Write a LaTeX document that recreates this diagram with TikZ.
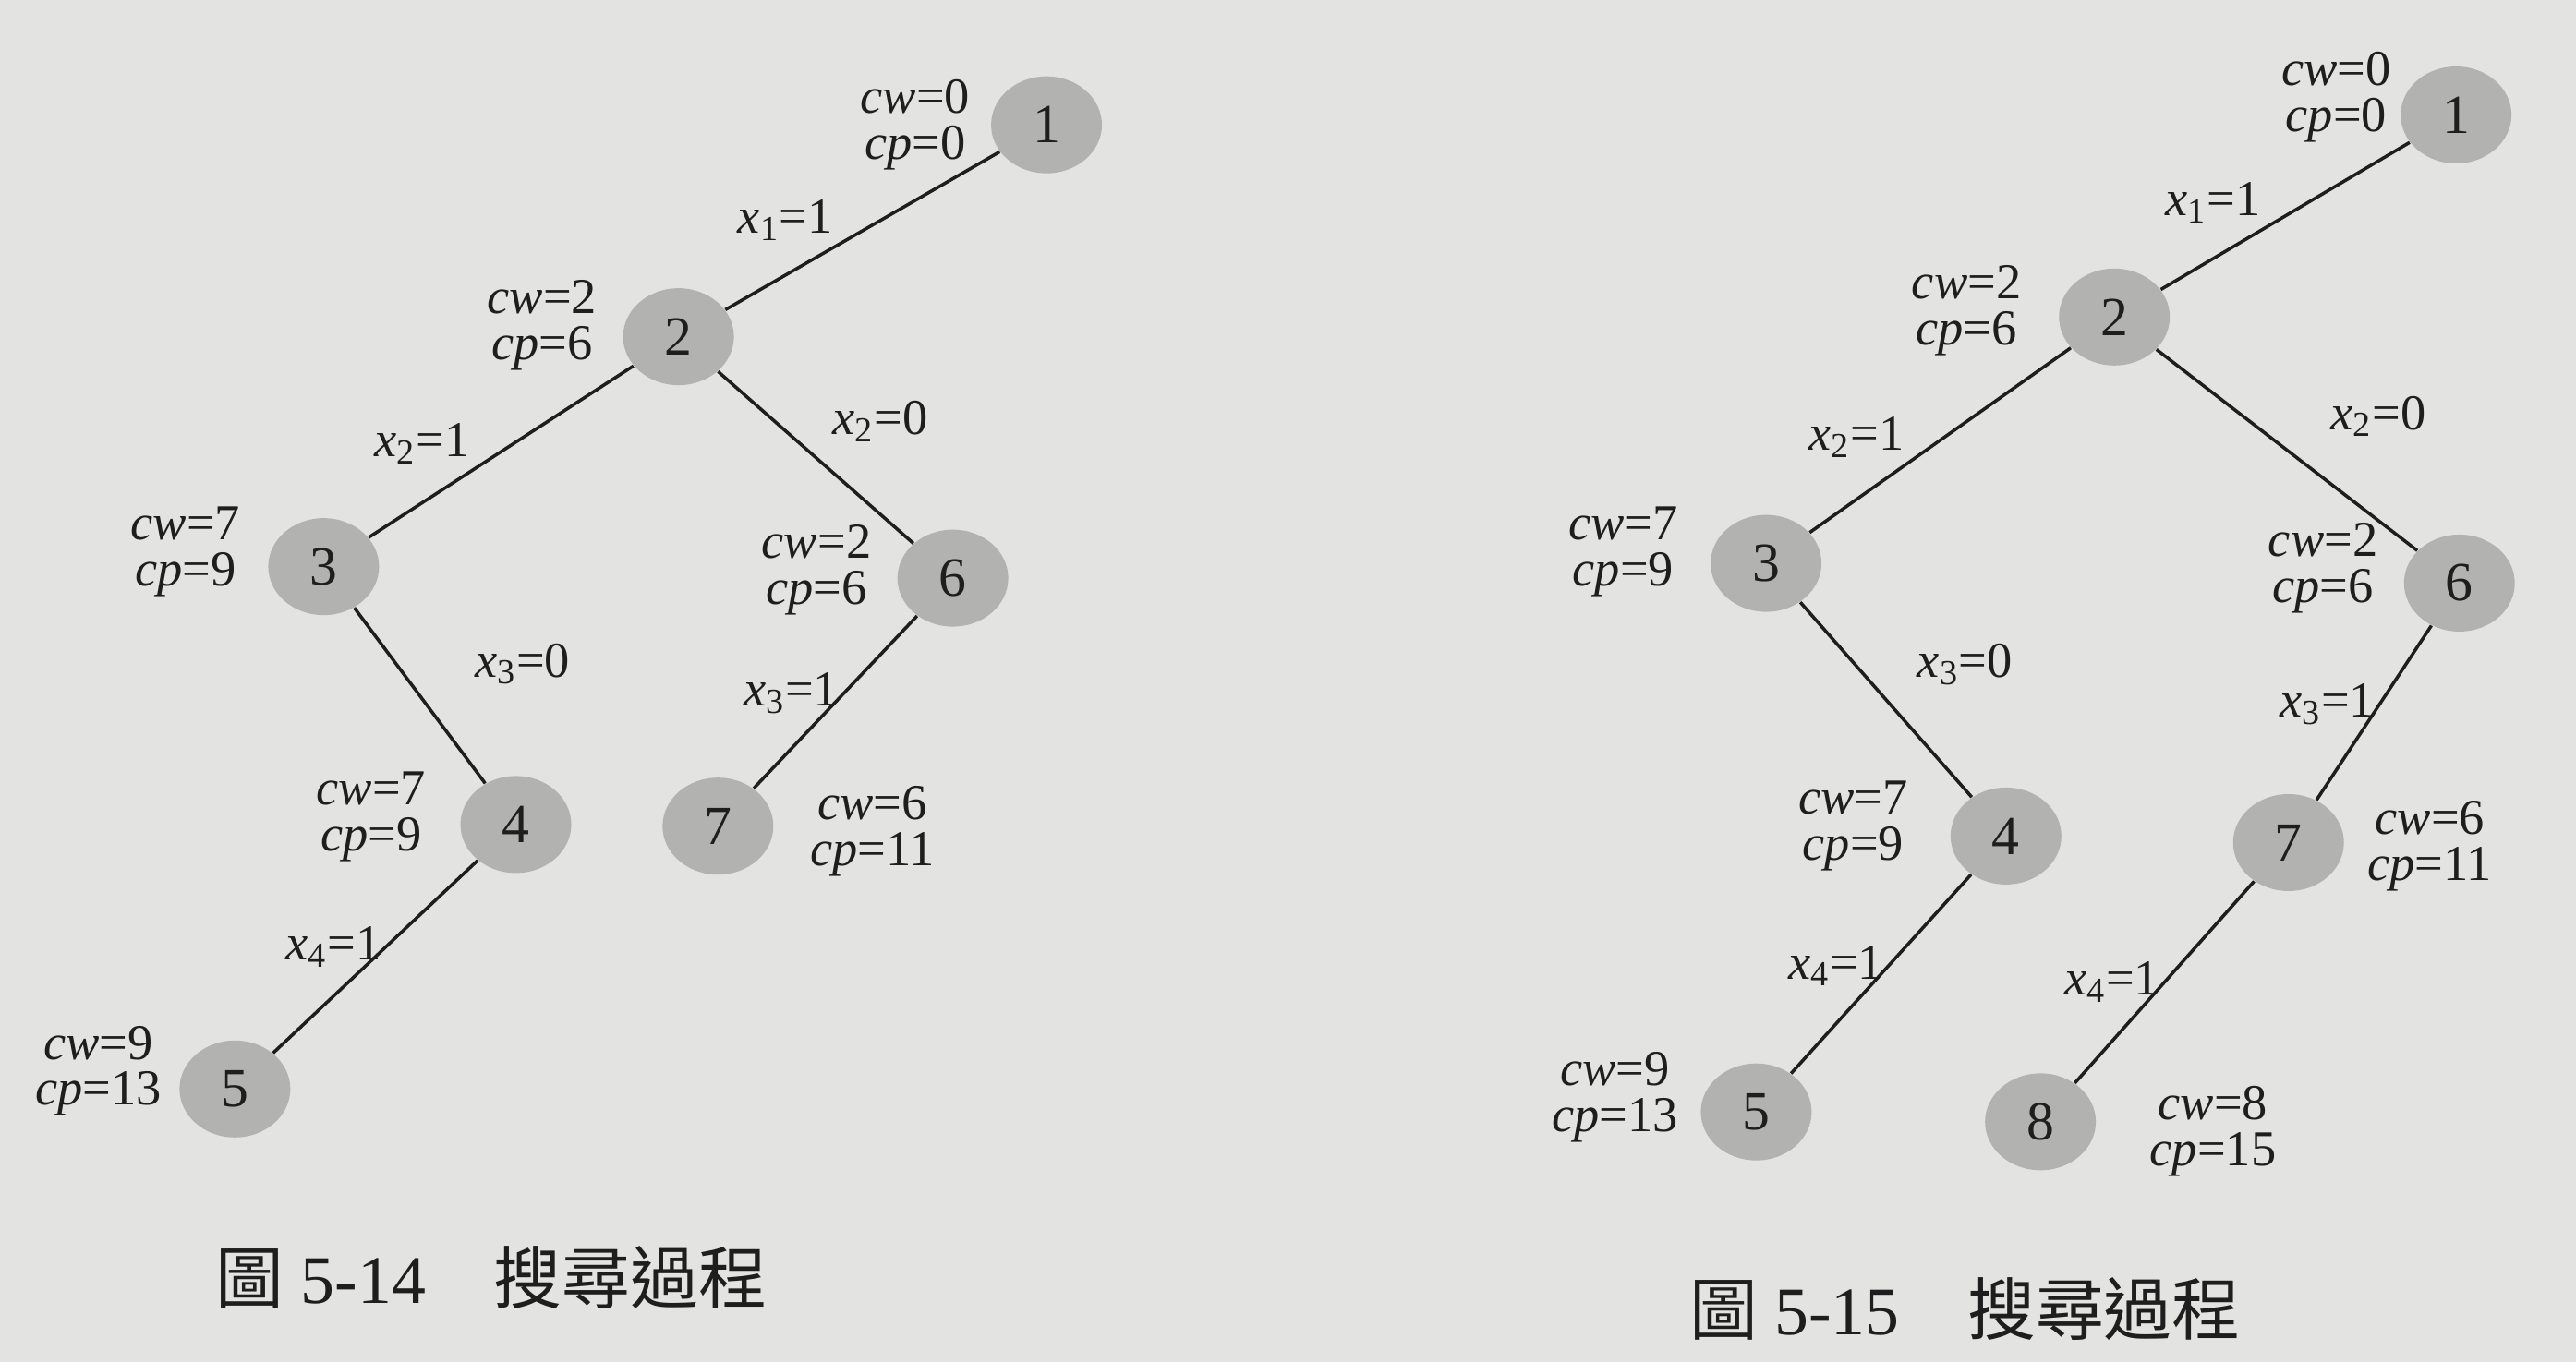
\documentclass[tikz,border=0pt]{standalone}
\usepackage{fontspec}
\setmainfont{Liberation Serif}
\newfontfamily\cjk{Noto Sans CJK TC}
\usetikzlibrary{positioning, shapes.geometric}

\definecolor{paper}{RGB}{227,227,225}
\definecolor{disc}{RGB}{178,178,176}
\definecolor{ink}{RGB}{30,30,30}

\newcommand{\cwcp}[2]{\textit{cw}=#1\\\textit{cp}=#2}
\newcommand{\xeq}[2]{\textit{x}\textsubscript{#1}=#2}

\begin{document}
\begin{tikzpicture}[x=0.017787cm, y=-0.017787cm]
    % Define styles
    \tikzset{
        state/.style={ellipse, fill=disc, minimum width=1.2cm, minimum height=1.05cm,
            inner sep=0pt, text=ink, font=\fontsize{17}{17}\selectfont},
        info/.style={align=center, inner sep=0pt, text=ink, font=\fontsize{15.5}{14.2}\selectfont},
        branch/.style={inner sep=1pt, text=ink, font=\fontsize{15.5}{15.5}\selectfont},
        link/.style={draw=ink, line width=1pt},
        caption/.style={text=ink, font=\fontsize{21}{21}\selectfont}
    }

    % Page
    \fill[paper] (0,0) rectangle (1568,829);

    % Define nodes (left tree)
	\node[state] (L1) at (637, 76) {1};
	\node[state] (L2) at (413, 205) {2};
	\node[state] (L3) at (197, 345) {3};
	\node[state] (L6) at (580, 352) {6};
	\node[state] (L4) at (314, 502) {4};
	\node[state] (L7) at (437, 503) {7};
	\node[state] (L5) at (143, 663) {5};

	\node[info] (L1info) at (557, 76) {\cwcp{0}{0}};
	\node[info] (L2info) at (330, 198) {\cwcp{2}{6}};
	\node[info] (L3info) at (113, 336) {\cwcp{7}{9}};
	\node[info] (L6info) at (497, 347) {\cwcp{2}{6}};
	\node[info] (L4info) at (226, 497) {\cwcp{7}{9}};
	\node[info] (L7info) at (531, 506) {\cwcp{6}{11}};
	\node[info] (L5info) at (60, 652) {\cwcp{9}{13}};

    % Define nodes (right tree)
	\node[state] (R1) at (1495, 70) {1};
	\node[state] (R2) at (1287, 193) {2};
	\node[state] (R3) at (1075, 343) {3};
	\node[state] (R6) at (1497, 355) {6};
	\node[state] (R4) at (1221, 509) {4};
	\node[state] (R7) at (1393, 513) {7};
	\node[state] (R5) at (1069, 677) {5};
	\node[state] (R8) at (1242, 683) {8};

	\node[info] (R1info) at (1422, 59) {\cwcp{0}{0}};
	\node[info] (R2info) at (1197, 189) {\cwcp{2}{6}};
	\node[info] (R3info) at (988, 336) {\cwcp{7}{9}};
	\node[info] (R6info) at (1414, 346) {\cwcp{2}{6}};
	\node[info] (R4info) at (1128, 503) {\cwcp{7}{9}};
	\node[info] (R7info) at (1479, 515) {\cwcp{6}{11}};
	\node[info] (R5info) at (983, 668) {\cwcp{9}{13}};
	\node[info] (R8info) at (1347, 689) {\cwcp{8}{15}};

    % Captions
	\node[caption] (LeftCaption) at (299, 778) {{\cjk 圖} 5-14\hspace{1em}{\cjk 搜尋過程}};
	\node[caption] (RightCaption) at (1196, 797) {{\cjk 圖} 5-15\hspace{1em}{\cjk 搜尋過程}};

    % Draw branches (left tree)
	\draw[link] (L1) -- node[branch, pos=.59, above left] {\xeq{1}{1}} (L2);
	\draw[link] (L2) -- node[branch, pos=.60, above left] {\xeq{2}{1}} (L3);
	\draw[link] (L2) -- node[branch, pos=.49, above right, xshift=0.15cm, yshift=0.1cm] {\xeq{2}{0}} (L6);
	\draw[link] (L3) -- node[branch, pos=.32, right=0.8cm] {\xeq{3}{0}} (L4);
	\draw[link] (L6) -- node[branch, pos=.45, anchor=east] {\xeq{3}{1}} (L7);
	\draw[link] (L4) -- node[branch, pos=.45, anchor=east] {\xeq{4}{1}} (L5);

    % Draw branches (right tree)
	\draw[link] (R1) -- node[branch, pos=.58, above left] {\xeq{1}{1}} (R2);
	\draw[link] (R2) -- node[branch, pos=.62, above left] {\xeq{2}{1}} (R3);
	\draw[link] (R2) -- node[branch, pos=.55, above right, xshift=0.28cm, yshift=0.2cm] {\xeq{2}{0}} (R6);
	\draw[link] (R3) -- node[branch, pos=.32, right=0.62cm] {\xeq{3}{0}} (R4);
	\draw[link] (R6) -- node[branch, pos=.45, anchor=east] {\xeq{3}{1}} (R7);
	\draw[link] (R4) -- node[branch, pos=.46, anchor=east] {\xeq{4}{1}} (R5);
	\draw[link] (R7) -- node[branch, pos=.50, anchor=east] {\xeq{4}{1}} (R8);
\end{tikzpicture}
\end{document}
